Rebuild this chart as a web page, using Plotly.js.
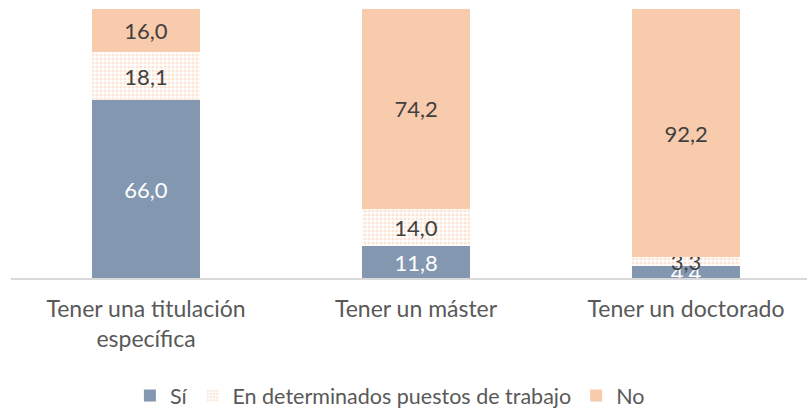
<!DOCTYPE html>
<html><head><meta charset="utf-8">
<script src="https://cdn.plot.ly/plotly-3.0.1.min.js"></script>
<style>html,body{margin:0;padding:0;background:#fff}#c{width:807px;height:409px}</style>
</head><body><div id="c"></div>
<script>
const categories = ["Tener una titulación<br>específica", "Tener un máster", "Tener un doctorado"];
const seriesNames = ["Sí", "En determinados puestos de trabajo", "No"];
const si = [66.0, 11.8, 4.4];
const determinados = [18.1, 14.0, 3.3];
const no = [16.0, 74.2, 92.2];

const fontFam = "Lato, 'Open Sans', sans-serif";
const labelSize = 22;
const common = {type: 'bar', x: categories, width: 0.4, textposition: 'inside', insidetextanchor: 'middle',
  constraintext: 'none', texttemplate: '%{y:.1f}', hoverinfo: 'skip', cliponaxis: true};

const traces = [
  Object.assign({}, common, {name: seriesNames[0], y: si,
    marker: {color: '#8497B0', line: {width: 0}},
    textfont: {family: fontFam, size: labelSize, color: '#FFFFFF'}}),
  Object.assign({}, common, {name: seriesNames[1], y: determinados,
    marker: {color: '#FFFFFF', line: {width: 0},
      pattern: {shape: '.', fgcolor: '#F8CBAD', bgcolor: '#FFFFFF', size: 4, solidity: 0.5, fillmode: 'overlay'}},
    textfont: {family: fontFam, size: labelSize, color: '#404040'}}),
  Object.assign({}, common, {name: seriesNames[2], y: no,
    marker: {color: '#F8CBAD', line: {width: 0}},
    textfont: {family: fontFam, size: labelSize, color: '#404040'}})
];

const layout = {
  width: 807, height: 409,
  margin: {l: 11, r: 0, t: 9, b: 131, autoexpand: false},
  barmode: 'stack',
  paper_bgcolor: '#fff', plot_bgcolor: '#fff',
  separators: ',.',
  showlegend: true,
  legend: {orientation: 'h', x: 0.476, xanchor: 'center', y: -0.437, yanchor: 'middle',
    font: {family: fontFam, size: 21.5, color: '#595959'}, traceorder: 'normal', itemwidth: 30},
  xaxis: {range: [-0.5, 2.448], showline: true, linecolor: '#D9D9D9', linewidth: 1.5,
    ticks: '', showgrid: false, zeroline: false, fixedrange: true, automargin: false,
    tickfont: {family: fontFam, size: 23, color: '#595959'}, ticklabelstandoff: 10},
  yaxis: {range: [0, 100], showticklabels: false, showgrid: false, zeroline: false, showline: false, fixedrange: true},
  font: {family: fontFam}
};

Plotly.newPlot('c', traces, layout, {displayModeBar: false, staticPlot: true});
</script></body></html>
